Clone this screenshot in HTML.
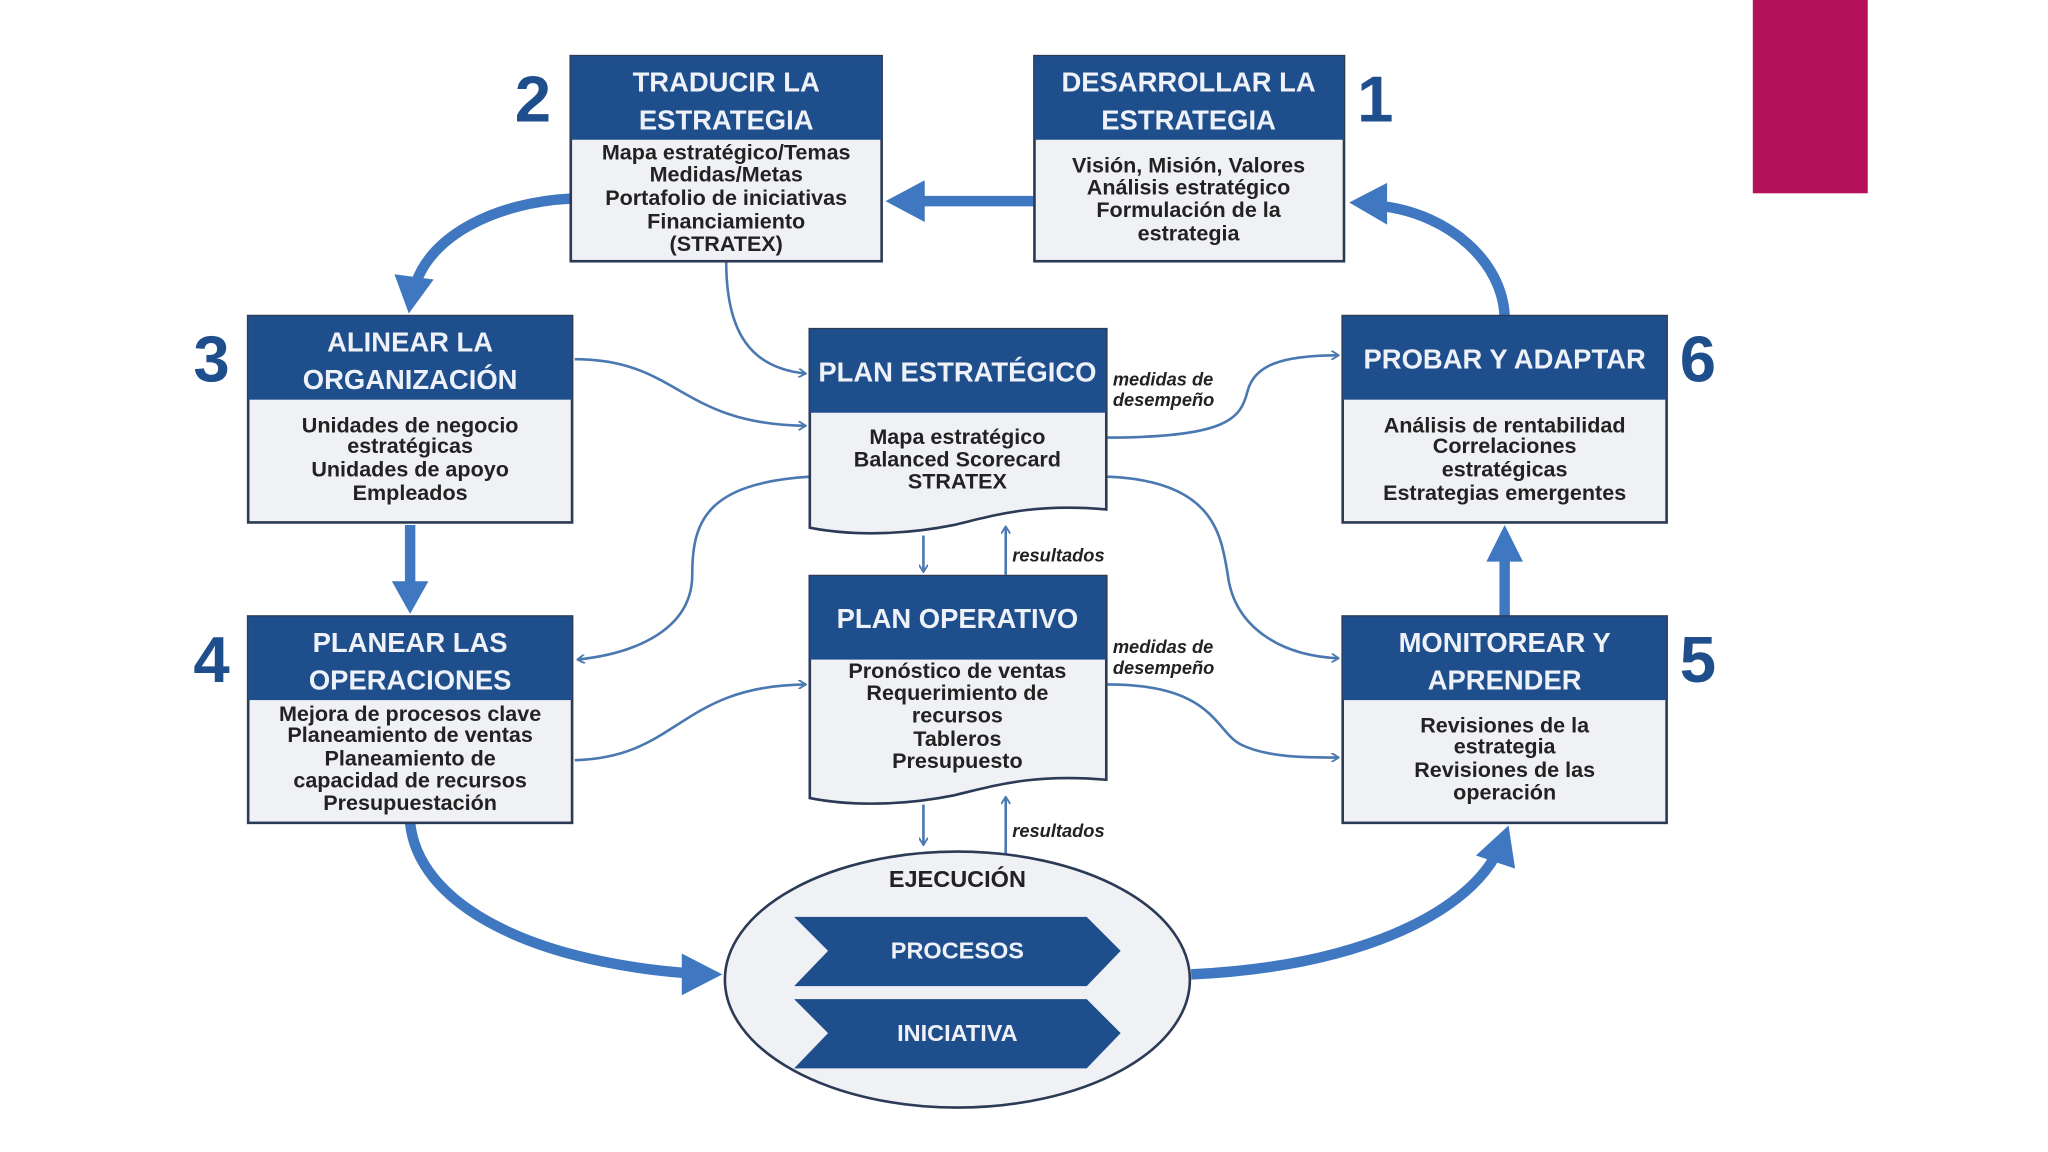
<!DOCTYPE html>
<html><head><meta charset="utf-8"><style>
html,body{margin:0;padding:0;background:#fff;width:2048px;height:1152px;overflow:hidden}
svg{display:block}
.h{font-family:"Liberation Sans Narrow","Liberation Sans",sans-serif;font-weight:bold;fill:#eef2f8;font-size:21px;text-anchor:middle}
.b{font-family:"Liberation Sans Narrow","Liberation Sans",sans-serif;font-weight:bold;fill:#222;font-size:16.5px;text-anchor:middle}
.n{font-family:"Liberation Sans Narrow","Liberation Sans",sans-serif;font-weight:bold;fill:#1f4e8c;font-size:50px;text-anchor:middle}
.i{font-family:"Liberation Sans Narrow","Liberation Sans",sans-serif;font-weight:bold;font-style:italic;fill:#222;font-size:14px}
.box{fill:#f0f1f5;stroke:#2b3a55;stroke-width:2}
.hd{fill:#1f4e8c}
.thin{fill:none;stroke:#4a78b0;stroke-width:2}
.thick{fill:none;stroke:#3f78c0;stroke-width:8}
</style></head><body>
<svg width="2048" height="1152" viewBox="0 0 1568 882" preserveAspectRatio="none">
<defs>
<marker id="a" viewBox="0 0 10 10" refX="9" refY="5" markerWidth="7" markerHeight="7" orient="auto" markerUnits="userSpaceOnUse"><path d="M1,0 L9,5 L1,10" fill="none" stroke="#4a78b0" stroke-width="2"/></marker>
</defs>
<rect x="1342" y="0" width="88" height="148" fill="#b5105a"/>

<!-- thick arrows -->
<path class="thick" d="M792,154 L705,154"/>
<polygon points="678,154 708,138 708,170" fill="#3f78c0"/>
<path class="thick" d="M437,152 C380,155 330,180 318,218"/>
<polygon points="313,240 302,210 332,214" fill="#3f78c0"/>
<path class="thick" d="M314,402 L314,450"/>
<polygon points="314,470 300,445 328,445" fill="#3f78c0"/>
<path class="thick" d="M314,630 C320,690 400,735 525,745"/>
<polygon points="553,746 522,730 522,762" fill="#3f78c0"/>
<path class="thick" d="M912,746 C1040,740 1120,700 1145,655"/>
<polygon points="1155,632 1160,665 1130,655" fill="#3f78c0"/>
<path class="thick" d="M1152,472 L1152,428"/>
<polygon points="1152,402 1138,430 1166,430" fill="#3f78c0"/>
<path class="thick" d="M1152,242 C1150,200 1110,165 1060,158"/>
<polygon points="1033,155 1062,140 1062,172" fill="#3f78c0"/>

<!-- thin connectors -->
<path class="thin" marker-end="url(#a)" d="M556,200 C556,255 575,282 617,286"/>
<path class="thin" marker-end="url(#a)" d="M440,275 C520,275 520,325 617,326"/>
<path class="thin" marker-end="url(#a)" d="M620,365 C540,370 530,400 530,440 C530,480 490,500 442,505"/>
<path class="thin" marker-end="url(#a)" d="M440,582 C520,580 520,525 617,524"/>
<path class="thin" marker-end="url(#a)" d="M848,335 C940,335 950,320 955,300 C960,280 980,272 1025,272"/>
<path class="thin" marker-end="url(#a)" d="M848,365 C930,368 935,410 940,440 C945,480 980,502 1025,504"/>
<path class="thin" marker-end="url(#a)" d="M848,524 C930,524 930,560 950,570 C970,580 1000,580 1025,580"/>
<path class="thin" marker-end="url(#a)" d="M707,410 L707,438"/>
<path class="thin" marker-end="url(#a)" d="M770,440 L770,403"/>
<path class="thin" marker-end="url(#a)" d="M707,616 L707,647"/>
<path class="thin" marker-end="url(#a)" d="M770,655 L770,610"/>

<!-- Box 2 -->
<rect class="box" x="437" y="43" width="238" height="157"/>
<rect class="hd" x="437" y="43" width="238" height="64"/>
<text class="h" x="556" y="70">TRADUCIR LA</text>
<text class="h" x="556" y="99">ESTRATEGIA</text>
<text class="b" x="556" y="122">Mapa estratégico/Temas</text>
<text class="b" x="556" y="139">Medidas/Metas</text>
<text class="b" x="556" y="157">Portafolio de iniciativas</text>
<text class="b" x="556" y="175">Financiamiento</text>
<text class="b" x="556" y="192">(STRATEX)</text>

<!-- Box 1 -->
<rect class="box" x="792" y="43" width="237" height="157"/>
<rect class="hd" x="792" y="43" width="237" height="64"/>
<text class="h" x="910" y="70">DESARROLLAR LA</text>
<text class="h" x="910" y="99">ESTRATEGIA</text>
<text class="b" x="910" y="132">Visión, Misión, Valores</text>
<text class="b" x="910" y="149">Análisis estratégico</text>
<text class="b" x="910" y="166">Formulación de la</text>
<text class="b" x="910" y="184">estrategia</text>

<!-- Box 3 -->
<rect class="box" x="190" y="242" width="248" height="158"/>
<rect class="hd" x="190" y="242" width="248" height="64"/>
<text class="h" x="314" y="269">ALINEAR LA</text>
<text class="h" x="314" y="298">ORGANIZACIÓN</text>
<text class="b" x="314" y="331">Unidades de negocio</text>
<text class="b" x="314" y="347">estratégicas</text>
<text class="b" x="314" y="365">Unidades de apoyo</text>
<text class="b" x="314" y="383">Empleados</text>

<!-- Box 6 -->
<rect class="box" x="1028" y="242" width="248" height="158"/>
<rect class="hd" x="1028" y="242" width="248" height="64"/>
<text class="h" x="1152" y="282">PROBAR Y ADAPTAR</text>
<text class="b" x="1152" y="331">Análisis de rentabilidad</text>
<text class="b" x="1152" y="347">Correlaciones</text>
<text class="b" x="1152" y="365">estratégicas</text>
<text class="b" x="1152" y="383">Estrategias emergentes</text>

<!-- Box 4 -->
<rect class="box" x="190" y="472" width="248" height="158"/>
<rect class="hd" x="190" y="472" width="248" height="64"/>
<text class="h" x="314" y="499">PLANEAR LAS</text>
<text class="h" x="314" y="528">OPERACIONES</text>
<text class="b" x="314" y="552">Mejora de procesos clave</text>
<text class="b" x="314" y="568">Planeamiento de ventas</text>
<text class="b" x="314" y="586">Planeamiento de</text>
<text class="b" x="314" y="603">capacidad de recursos</text>
<text class="b" x="314" y="620">Presupuestación</text>

<!-- Box 5 -->
<rect class="box" x="1028" y="472" width="248" height="158"/>
<rect class="hd" x="1028" y="472" width="248" height="64"/>
<text class="h" x="1152" y="499">MONITOREAR Y</text>
<text class="h" x="1152" y="528">APRENDER</text>
<text class="b" x="1152" y="561">Revisiones de la</text>
<text class="b" x="1152" y="577">estrategia</text>
<text class="b" x="1152" y="595">Revisiones de las</text>
<text class="b" x="1152" y="612">operación</text>

<!-- Plan estrategico -->
<path class="box" d="M620,252 L847,252 L847,390 C790,385 760,395 730,402 C690,410 650,410 620,404 Z"/>
<rect class="hd" x="620" y="252" width="227" height="64"/>
<text class="h" x="733" y="292">PLAN ESTRATÉGICO</text>
<text class="b" x="733" y="340">Mapa estratégico</text>
<text class="b" x="733" y="357">Balanced Scorecard</text>
<text class="b" x="733" y="374">STRATEX</text>

<!-- Plan operativo -->
<path class="box" d="M620,441 L847,441 L847,597 C790,592 760,602 730,609 C690,617 650,617 620,611 Z"/>
<rect class="hd" x="620" y="441" width="227" height="64"/>
<text class="h" x="733" y="481">PLAN OPERATIVO</text>
<text class="b" x="733" y="519">Pronóstico de ventas</text>
<text class="b" x="733" y="536">Requerimiento de</text>
<text class="b" x="733" y="553">recursos</text>
<text class="b" x="733" y="571">Tableros</text>
<text class="b" x="733" y="588">Presupuesto</text>

<text class="i" x="852" y="295">medidas de</text>
<text class="i" x="852" y="311">desempeño</text>
<text class="i" x="852" y="500">medidas de</text>
<text class="i" x="852" y="516">desempeño</text>
<text class="i" x="775" y="430">resultados</text>
<text class="i" x="775" y="641">resultados</text>

<!-- Ejecucion -->
<ellipse cx="733" cy="750" rx="178" ry="98" fill="#f0f1f5" stroke="#2b3a55" stroke-width="2"/>
<text class="b" x="733" y="679" style="font-size:18px">EJECUCIÓN</text>
<polygon points="608,702 832,702 858,728 832,755 608,755 634,728" fill="#1f4e8c"/>
<polygon points="608,765 832,765 858,791 832,818 608,818 634,791" fill="#1f4e8c"/>
<text class="h" x="733" y="734" style="font-size:18px">PROCESOS</text>
<text class="h" x="733" y="797" style="font-size:18px">INICIATIVA</text>

<!-- numbers -->
<text class="n" x="408" y="93">2</text>
<text class="n" x="1053" y="93">1</text>
<text class="n" x="162" y="292">3</text>
<text class="n" x="1300" y="292">6</text>
<text class="n" x="162" y="522">4</text>
<text class="n" x="1300" y="522">5</text>
</svg>
</body></html>
